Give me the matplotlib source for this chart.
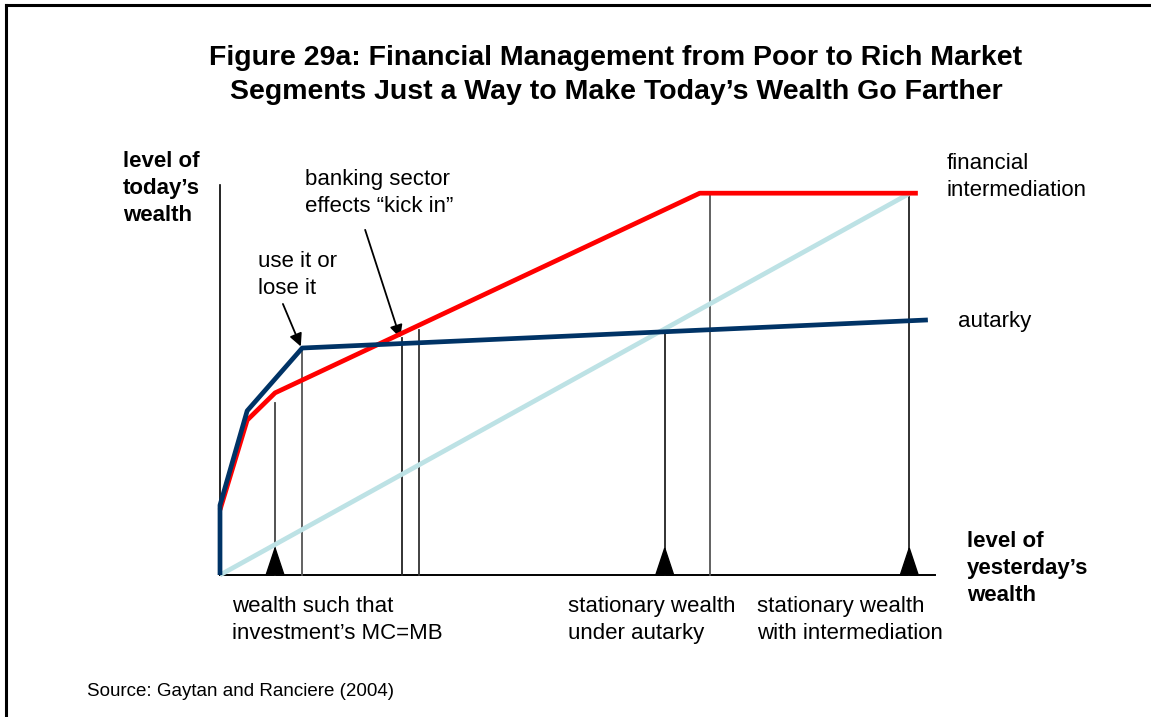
import matplotlib
matplotlib.use("Agg")
import matplotlib.pyplot as plt
import numpy as np

plt.rcParams['font.family'] = ['Liberation Sans', 'DejaVu Sans']

W, H = 1151, 717

# curves, in axis units (0..100 on both axes)
red_x = [0.0, 3.8, 7.7, 67.1, 97.6]
red_y = [16.7, 39.7, 46.7, 97.9, 97.9]
navy_x = [0.0, 0.0, 3.8, 11.5, 99.0]
navy_y = [0.0, 17.9, 42.1, 58.2, 65.4]
diag_x = [0.0, 96.5]
diag_y = [0.0, 97.9]

# thin vertical guide lines: position and top
guide_x = [7.7, 11.5, 25.5, 27.8, 62.2, 68.5, 96.4]
guide_top = [44.1, 58.2, 60.8, 62.8, 62.8, 97.9, 97.9]
guide_col = ['#444444', '#555555', '#222222', '#333333', '#222222', '#555555', '#222222']

# black triangles marking the stationary points
tri_x = [7.7, 62.2, 96.4]

fig = plt.figure(figsize=(W / 100, H / 100), dpi=100)

def fx(px):
    return px / W

def fy(py):
    return 1 - py / H

# plot area: origin at (220, 575) px, x to 935 px, y to 185 px
ax = fig.add_axes([fx(220), fy(575), (935 - 220) / W, (575 - 185) / H])
ax.set_xlim(0, 100)
ax.set_ylim(0, 100)
ax.axis('off')

ax.plot([0, 0], [0, 100], color='black', lw=1.2, clip_on=False)
ax.plot([0, 100], [0, 0], color='black', lw=1.4, clip_on=False)

for gx, gt, gc in zip(guide_x, guide_top, guide_col):
    ax.plot([gx, gx], [0, gt], color=gc, lw=1.3, clip_on=False, zorder=2)

ax.plot(diag_x, diag_y, color='#bde2e5', lw=3.4, clip_on=False, zorder=3,
        solid_capstyle='butt')
ax.plot(red_x, red_y, color='#ff0000', lw=3.4, clip_on=False, zorder=4,
        solid_capstyle='butt')
ax.plot(navy_x, navy_y, color='#003366', lw=3.4, clip_on=False, zorder=5,
        solid_capstyle='butt')

tw, th = 1.25, 6.9
for t in tri_x:
    ax.fill([t - tw, t + tw, t], [0, 0, th], color='black', zorder=6, clip_on=False)

# arrows
ax.annotate('', xy=(11.3, 58.6), xytext=(8.8, 69.5),
            arrowprops=dict(arrowstyle='-|>', color='black', lw=1.3,
                            mutation_scale=19, shrinkA=0, shrinkB=0))
ax.annotate('', xy=(25.2, 60.8), xytext=(20.3, 88.5),
            arrowprops=dict(arrowstyle='-|>', color='black', lw=1.3,
                            mutation_scale=19, shrinkA=0, shrinkB=0))

# frame of the slide
fig.add_artist(plt.Line2D([fx(6), fx(6)], [fy(5), fy(717)], color='black', lw=2.2))
fig.add_artist(plt.Line2D([fx(6), fx(1151)], [fy(5), fy(5)], color='black', lw=2.2))

fs = 16
ls = 1.36
fig.text(fx(616), fy(75), "Figure 29a: Financial Management from Poor to Rich Market\n"
         "Segments Just a Way to Make Today\u2019s Wealth Go Farther",
         ha='center', va='center', fontsize=20.5, fontweight='bold', linespacing=1.38)

fig.text(fx(123), fy(151), "level of\ntoday\u2019s\nwealth", ha='left', va='top',
         fontsize=fs, fontweight='bold', linespacing=ls)
fig.text(fx(967), fy(531), "level of\nyesterday\u2019s\nwealth", ha='left', va='top',
         fontsize=fs, fontweight='bold', linespacing=ls)

fig.text(fx(305), fy(169), "banking sector\neffects \u201ckick in\u201d", ha='left', va='top',
         fontsize=fs, linespacing=ls)
fig.text(fx(258), fy(251), "use it or\nlose it", ha='left', va='top',
         fontsize=fs, linespacing=ls)
fig.text(fx(947), fy(153), "financial\nintermediation", ha='left', va='top',
         fontsize=fs, linespacing=ls)
fig.text(fx(958), fy(321), "autarky", ha='left', va='center', fontsize=fs)

fig.text(fx(232), fy(596), "wealth such that\ninvestment\u2019s MC=MB", ha='left', va='top',
         fontsize=fs, linespacing=ls)
fig.text(fx(568), fy(596), "stationary wealth\nunder autarky", ha='left', va='top',
         fontsize=fs, linespacing=ls)
fig.text(fx(757), fy(596), "stationary wealth\nwith intermediation", ha='left', va='top',
         fontsize=fs, linespacing=ls)

fig.text(fx(87), fy(692), "Source: Gaytan and Ranciere (2004)", ha='left', va='center',
         fontsize=13.5)

fig.savefig("out.png", dpi=100, facecolor='white')
